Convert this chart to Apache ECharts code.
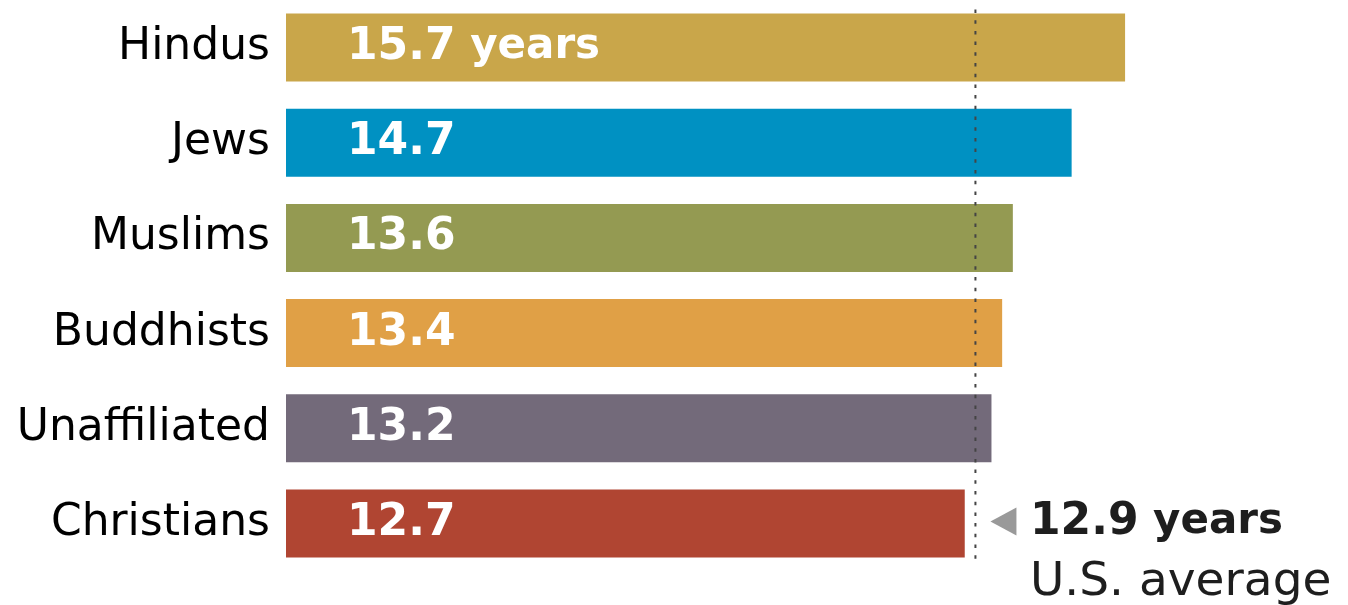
<!DOCTYPE html>
<html>
<head>
<meta charset="utf-8">
<script src="https://cdn.jsdelivr.net/npm/echarts@6/dist/echarts.min.js"></script>
<style>
  html, body { margin: 0; padding: 0; background: #fff; }
  #chart { width: 1348px; height: 605px; }
</style>
</head>
<body>
<div id="chart"></div>
<script>
const categories = ['Hindus', 'Jews', 'Muslims', 'Buddhists', 'Unaffiliated', 'Christians'];
const values = [15.7, 14.7, 13.6, 13.4, 13.2, 12.7];
const barColors = ['#C9A64A', '#0091C2', '#949A52', '#E0A046', '#736A7A', '#B04532'];
const usAverage = 12.9;
const avgLineSpan = [0.1, 5.88];
const avgAnchorRow = 5.5;

const chart = echarts.init(document.getElementById('chart'), null, { renderer: 'canvas' });
const FONT = 'DejaVu Sans';

const option = {
  animation: false,
  backgroundColor: '#ffffff',
  grid: { left: 286, right: 100, top: -3, bottom: 34, containLabel: false },
  xAxis: { type: 'value', min: 0, max: 18, show: false },
  yAxis: [
    {
      type: 'category',
      data: categories,
      inverse: true,
      axisLine: { show: false },
      axisTick: { show: false },
      splitLine: { show: false },
      axisLabel: {
        fontFamily: FONT,
        fontSize: 44,
        color: '#000000',
        margin: 16
      }
    },
    { type: 'value', min: 0, max: 6, inverse: true, show: false }
  ],
  series: [
    {
      type: 'bar',
      yAxisIndex: 0,
      barWidth: 68,
      data: values.map((v, i) => ({ value: v, itemStyle: { color: barColors[i] } })),
      label: {
        show: true,
        position: 'insideLeft',
        distance: 61,
        formatter: p => p.dataIndex === 0
          ? '{num|' + p.value.toFixed(1) + '}{unit| years}'
          : '{num|' + p.value.toFixed(1) + '}',
        rich: {
          num: { fontFamily: FONT, fontWeight: 'bold', fontSize: 44, color: '#ffffff' },
          unit: { fontFamily: FONT, fontWeight: 'bold', fontSize: 42, color: '#ffffff' }
        }
      }
    },
    {
      type: 'line',
      yAxisIndex: 1,
      symbol: 'none',
      silent: true,
      data: avgLineSpan.map(y => [usAverage, y]),
      lineStyle: { color: '#444444', width: 2, type: [3.5, 7.2] },
      markPoint: {
        silent: true,
        data: [
          {
            coord: [usAverage, avgAnchorRow],
            symbol: 'triangle',
            symbolRotate: 90,
            symbolSize: [28, 26],
            symbolOffset: [28, -2],
            itemStyle: { color: '#999999' },
            label: { show: false }
          },
          {
            coord: [usAverage, avgAnchorRow],
            symbol: 'circle',
            symbolSize: 1,
            itemStyle: { color: 'rgba(0,0,0,0)' },
            label: {
              show: true,
              position: 'right',
              distance: 54,
              offset: [0, 29],
              align: 'left',
              formatter: '{b|' + usAverage.toFixed(1) + '}{y| years}\n{r|U.S. average}',
              rich: {
                b: { fontFamily: FONT, fontWeight: 'bold', fontSize: 44, color: '#1e1e1e', lineHeight: 60 },
                y: { fontFamily: FONT, fontWeight: 'bold', fontSize: 42, color: '#1e1e1e', lineHeight: 60 },
                r: { fontFamily: FONT, fontSize: 47, color: '#1e1e1e', lineHeight: 60 }
              }
            }
          }
        ]
      }
    }
  ]
};
chart.setOption(option);
</script>
</body>
</html>
